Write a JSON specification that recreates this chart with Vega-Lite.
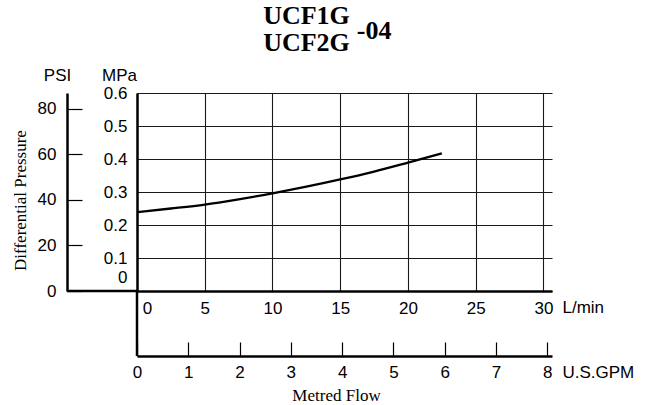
{
  "$schema": "https://vega.github.io/schema/vega-lite/v6.json",
  "width": 415,
  "height": 198,
  "autosize": {"type": "none"},
  "padding": {"left": 137, "top": 93, "right": 98, "bottom": 114},
  "background": "white",
  "title": {
    "text": ["UCF1G", "UCF2G"],
    "font": "Liberation Serif",
    "fontWeight": "bold",
    "fontSize": 26,
    "lineHeight": 27,
    "color": "black",
    "anchor": "middle",
    "frame": "group",
    "dx": -38,
    "offset": 9,
    "dy": 47
  },
  "config": {
    "view": {"stroke": null},
    "axis": {
      "labelFont": "Liberation Sans",
      "labelFontSize": 17,
      "labelColor": "black",
      "titleFont": "Liberation Sans",
      "titleFontSize": 17,
      "titleFontWeight": "normal",
      "titleColor": "black",
      "domainColor": "black",
      "domainWidth": 2.5,
      "tickColor": "black",
      "tickWidth": 1.2,
      "gridColor": "#1a1a1a",
      "gridOpacity": 1,
      "gridWidth": 1.1,
      "labelOverlap": false,
      "labelFlush": false
    }
  },
  "layer": [
    {
      "layer": [
        {
          "data": {"values": [
            {"lpm": 0, "mpa": 0.239},
            {"lpm": 2.5, "mpa": 0.25},
            {"lpm": 5, "mpa": 0.262},
            {"lpm": 7.5, "mpa": 0.278},
            {"lpm": 10, "mpa": 0.296},
            {"lpm": 12.5, "mpa": 0.316},
            {"lpm": 15, "mpa": 0.338},
            {"lpm": 17.5, "mpa": 0.362},
            {"lpm": 20, "mpa": 0.389},
            {"lpm": 22.5, "mpa": 0.417}
          ]},
          "mark": {"type": "line", "color": "black", "strokeWidth": 2.3, "interpolate": "monotone"},
          "encoding": {
            "x": {
              "field": "lpm", "type": "quantitative",
              "scale": {"domain": [0, 30.63], "nice": false, "zero": false},
              "axis": {
                "orient": "bottom",
                "title": "L/min",
                "titleX": 425, "titleY": 16, "titleAlign": "left", "titleBaseline": "middle", "titleAngle": 0,
                "values": [0, 5, 10, 15, 20, 25, 30],
                "tickCount": 20,
                "format": "d",
                "ticks": false,
                "labelPadding": 9,
                "labelOffset": {"condition": {"test": "datum.value === 0", "value": 10}, "value": 0},
                "grid": true
              }
            },
            "y": {
              "field": "mpa", "type": "quantitative",
              "scale": {"domain": [0, 0.6], "nice": false, "zero": false},
              "axis": {
                "orient": "left",
                "title": "MPa",
                "titleX": -18, "titleY": -18, "titleAlign": "center", "titleBaseline": "middle", "titleAngle": 0,
                "values": [0, 0.1, 0.2, 0.3, 0.4, 0.5, 0.6],
                "tickCount": 20,
                "labelExpr": "datum.value === 0 ? '0' : format(datum.value, '.1f')",
                "ticks": false,
                "labelPadding": 10,
                "labelOffset": {"condition": {"test": "datum.value === 0", "value": -14}, "value": 0},
                "grid": true
              }
            }
          }
        },
        {
          "data": {"values": [{}]},
          "mark": {"type": "rule", "color": "black", "strokeWidth": 2.5, "clip": false},
          "encoding": {
            "x": {"datum": -5.166, "type": "quantitative"},
            "x2": {"datum": 0},
            "y": {"datum": 0, "type": "quantitative"}
          }
        },
        {
          "data": {"values": [{}]},
          "mark": {"type": "rule", "color": "black", "strokeWidth": 2.5, "clip": false},
          "encoding": {
            "x": {"datum": 0, "type": "quantitative"},
            "y": {"datum": 0, "type": "quantitative"},
            "y2": {"datum": -0.197}
          }
        },
        {
          "data": {"values": [{"label": "-04"}]},
          "mark": {"type": "text", "font": "Liberation Serif", "fontWeight": "bold", "fontSize": 26, "color": "black", "align": "center", "baseline": "middle", "clip": false},
          "encoding": {
            "x": {"datum": 17.5, "type": "quantitative"},
            "y": {"datum": 0.788, "type": "quantitative"},
            "text": {"field": "label"}
          }
        }
      ]
    },
    {
      "data": {"values": [{}]},
      "mark": {"type": "point", "opacity": 0},
      "encoding": {
        "x": {
          "datum": 0, "type": "quantitative",
          "scale": {"domain": [0, 8.092], "nice": false, "zero": false},
          "axis": {
            "orient": "bottom",
            "offset": 65,
            "title": "U.S.GPM",
            "titleX": 425, "titleY": 16, "titleAlign": "left", "titleBaseline": "middle", "titleAngle": 0,
            "values": [0, 1, 2, 3, 4, 5, 6, 7, 8],
            "tickCount": 20,
            "format": "d",
            "ticks": true,
            "tickSize": -14,
            "labelPadding": 22,
            "grid": false
          }
        },
        "y": {
          "datum": 0, "type": "quantitative",
          "scale": {"domain": [0, 87.02], "nice": false, "zero": false},
          "axis": {
            "orient": "left",
            "offset": 70,
            "title": "PSI",
            "titleX": -10, "titleY": -18, "titleAlign": "center", "titleBaseline": "middle", "titleAngle": 0,
            "values": [0, 20, 40, 60, 80],
            "tickCount": 20,
            "format": "d",
            "ticks": true,
            "tickSize": -15,
            "labelPadding": 26,
            "grid": false
          }
        }
      }
    },
    {
      "data": {"values": [{}]},
      "mark": {"type": "point", "opacity": 0},
      "encoding": {
        "x": {
          "datum": 0, "type": "quantitative",
          "scale": {"domain": [0, 30.63], "nice": false, "zero": false},
          "axis": {
            "orient": "bottom",
            "title": "Metred Flow",
            "titleFont": "Liberation Serif",
            "titleX": 199, "titleY": 104, "titleAlign": "center", "titleBaseline": "middle", "titleAngle": 0,
            "domain": false, "labels": false, "ticks": false, "grid": false
          }
        },
        "y": {
          "datum": 0, "type": "quantitative",
          "scale": {"domain": [0, 0.6], "nice": false, "zero": false},
          "axis": {
            "orient": "left",
            "title": "Differential Pressure",
            "titleFont": "Liberation Serif",
            "titleX": -117, "titleY": 107, "titleAlign": "center", "titleBaseline": "middle", "titleAngle": -90,
            "domain": false, "labels": false, "ticks": false, "grid": false
          }
        }
      }
    }
  ],
  "resolve": {"scale": {"x": "independent", "y": "independent"}}
}
